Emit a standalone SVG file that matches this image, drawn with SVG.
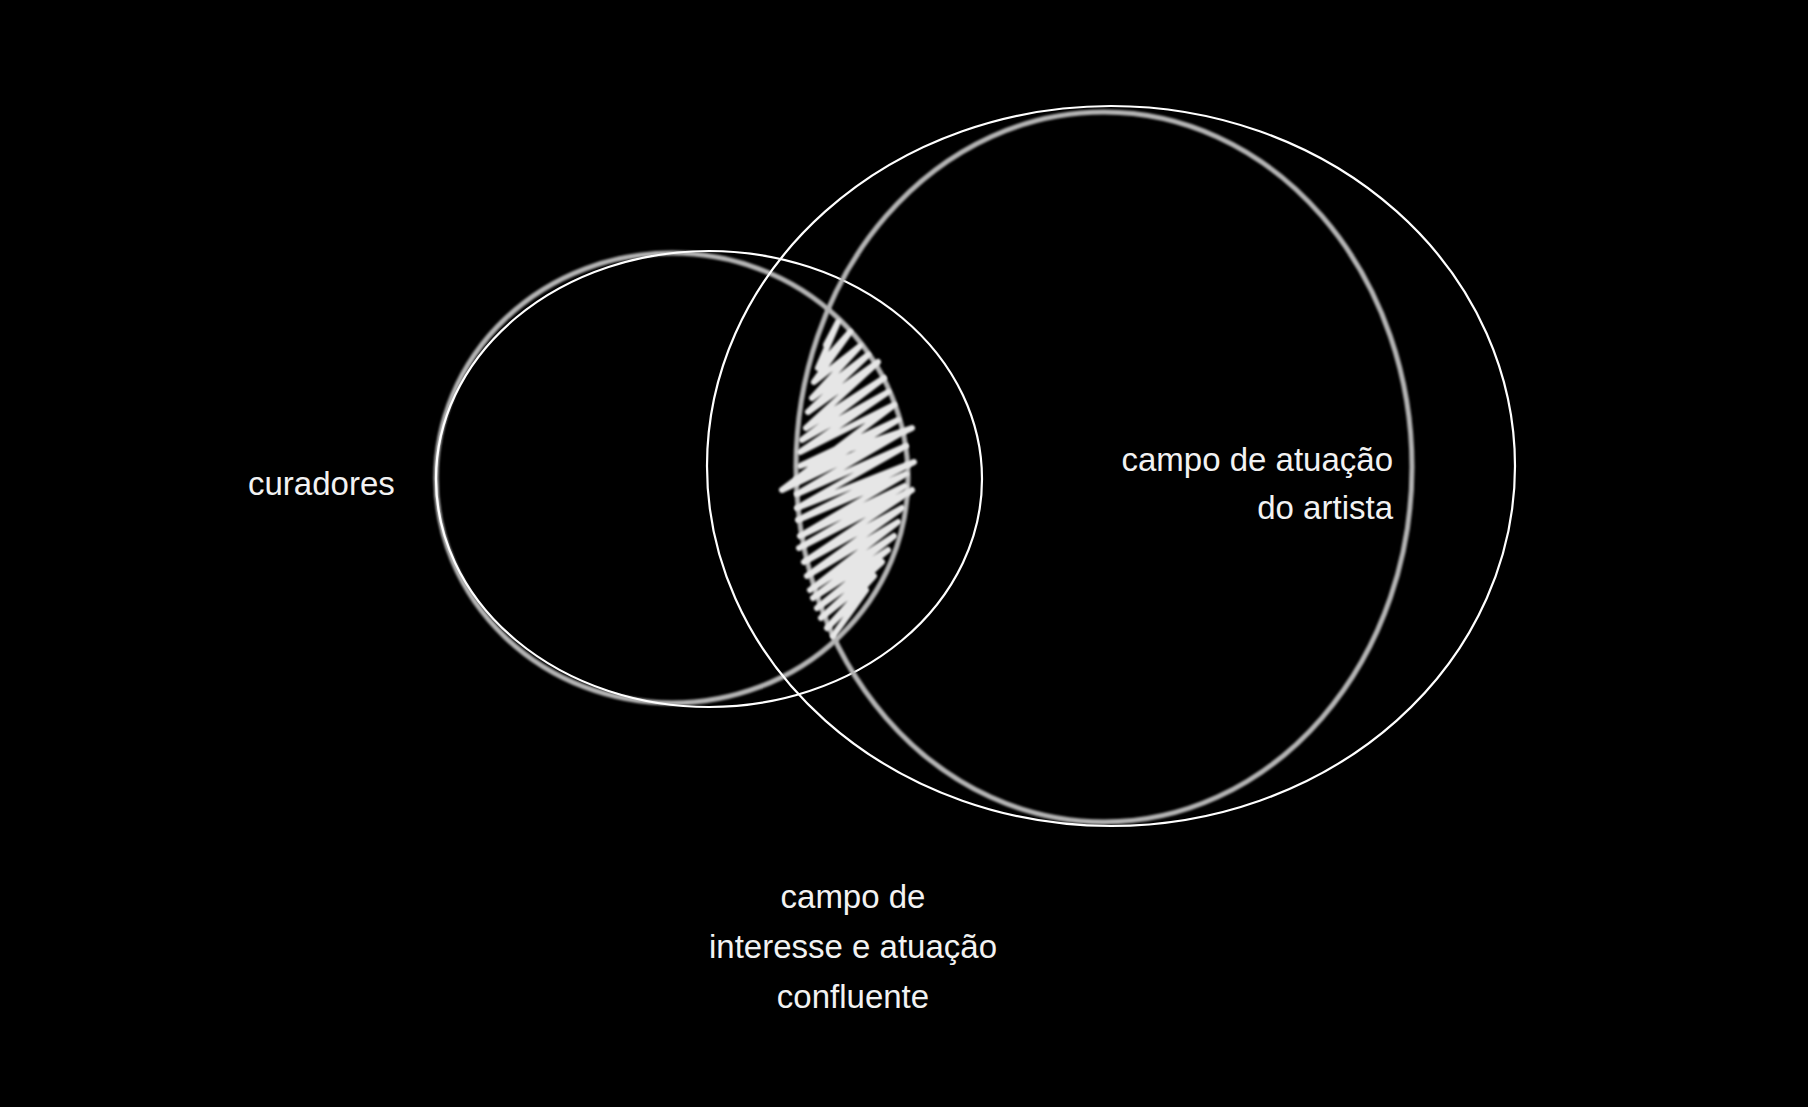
<svg xmlns="http://www.w3.org/2000/svg" width="1808" height="1107" viewBox="0 0 1808 1107">
<defs>
<style>
.lbl{font-family:"Liberation Sans",Arial,sans-serif;font-size:33px;fill:#f2f2f2}
.gray{fill:none;stroke:#b4b4b4;stroke-width:5;filter:url(#soft)}
.thin{fill:none;stroke:#ffffff;stroke-width:2.2}
.scrib{fill:none;stroke:#e6e6e6;stroke-width:6;stroke-linecap:round;stroke-linejoin:round;filter:url(#soft)}
</style>
<filter id="soft" x="-10%" y="-10%" width="120%" height="120%"><feGaussianBlur stdDeviation="0.9"/></filter>
</defs>
<rect width="1808" height="1107" fill="#000"/>
<g id="curadores">
<ellipse class="gray" cx="672" cy="478" rx="236" ry="225"/>
<ellipse class="thin" cx="709" cy="479" rx="273" ry="228"/>
<text class="lbl" x="248" y="495">curadores</text>
</g>
<g id="artista">
<ellipse class="gray" cx="1104" cy="467" rx="308" ry="355"/>
<ellipse class="thin" cx="1111" cy="466" rx="404" ry="360"/>
<text class="lbl" x="1393" y="471" text-anchor="end">campo de atuação</text>
<text class="lbl" x="1393" y="519" text-anchor="end">do artista</text>
</g>
<g id="confluente">
<path class="scrib" d="M826 345 L838 322 L818 368 L850 332 L814 382 L860 346 L812 398 L868 355 L808 412 L878 362 L806 428 L884 378 L802 440 L888 392 L800 452 L894 405 L782 490 L912 428 L800 466 L898 420 L798 480 L903 432 L797 494 L906 446 L797 508 L914 462 L798 520 L906 474 L800 536 L905 486 L799 548 L912 490 L804 562 L902 508 L807 576 L898 522 L810 590 L894 536 L813 598 L888 550 L817 608 L882 562 L821 618 L874 576 L827 628 L866 590 L833 636 L856 604"/>
<text class="lbl" x="853" y="908" text-anchor="middle">campo de</text>
<text class="lbl" x="853" y="958" text-anchor="middle">interesse e atuação</text>
<text class="lbl" x="853" y="1008" text-anchor="middle">confluente</text>
</g>
</svg>
